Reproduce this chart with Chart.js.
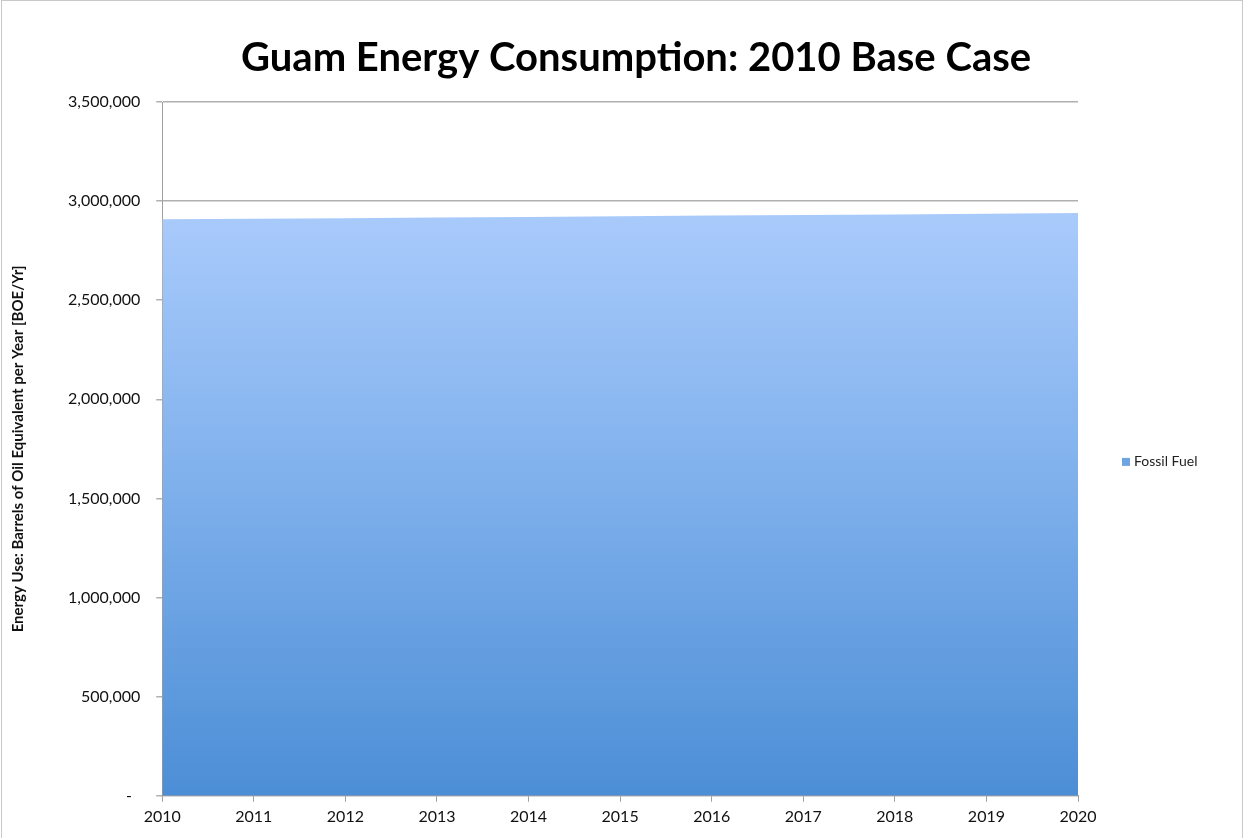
<!DOCTYPE html>
<html>
<head>
<meta charset="utf-8">
<script src="https://cdn.jsdelivr.net/npm/chart.js@4.4.0/dist/chart.umd.min.js"></script>
<style>
  html, body { margin: 0; padding: 0; background: #fff; }
  #wrap { width: 1240px; height: 837px; border-left: 1px solid #c8c8c8; border-top: 1px solid #c8c8c8; border-right: 1px solid #c8c8c8; margin-left: 1px; }
</style>
</head>
<body>
<div id="wrap"><canvas id="grafico"></canvas></div>
<script>
const years = ['2010', '2011', '2012', '2013', '2014', '2015', '2016', '2017', '2018', '2019', '2020'];
const fossilFuel = [2908000, 2911000, 2914000, 2917000, 2920000, 2924000, 2927000, 2930000, 2933000, 2936000, 2940000];
const seriesName = 'Fossil Fuel';
const yMax = 3500000;
const yStep = 500000;

const ctx = document.getElementById('grafico').getContext('2d');

function gradiente(context) {
    const area = context.chart.chartArea;
    if (!area) return '#7aaae8';
    const g = context.chart.ctx.createLinearGradient(0, area.top, 0, area.bottom);
    g.addColorStop(0, '#b4d3fe');
    g.addColorStop(0.17, '#a8cafb');
    g.addColorStop(0.55, '#7fb0ec');
    g.addColorStop(1, '#4c8ed6');
    return g;
}

// legenda desenhada à direita do gráfico + título um pouco deslocado como no original
const legendaDireita = {
    id: 'legendaDireita',
    afterLayout(chart) {
        const t = chart.titleBlock;
        const a = chart.chartArea;
        if (!t) return;
        const centro = (a.left + a.right) / 2 + 16;
        const meio = (t.right - t.left) / 2;
        t.left = centro - meio;
        t.right = centro + meio;
    },
    afterDraw(chart) {
        const a = chart.chartArea;
        const c = chart.ctx;
        const x = a.right + 44;
        const y = (a.top + a.bottom) / 2 + 13;
        c.save();
        c.fillStyle = '#6fa4e4';
        c.fillRect(x, y - 4, 8, 8);
        c.fillStyle = '#222';
        c.font = '14px Lato';
        c.textBaseline = 'middle';
        c.fillText(seriesName, x + 12, y);
        c.restore();
    }
};

const grafico = new Chart(ctx, {
    type: 'line',
    data: {
        labels: years,
        datasets: [{
            label: seriesName,
            data: fossilFuel,
            fill: 'origin',
            backgroundColor: gradiente,
            borderWidth: 0,
            pointRadius: 0,
            tension: 0
        }]
    },
    plugins: [legendaDireita],
    options: {
        responsive: true,
        maintainAspectRatio: false,
        animation: false,
        layout: { padding: { left: 3, right: 164, top: 0, bottom: 7 } },
        plugins: {
            title: {
                display: true,
                text: 'Guam Energy Consumption: 2010 Base Case',
                color: '#000',
                font: { family: 'Lato', size: 40, weight: 'bold' },
                padding: { top: 33, bottom: 20 }
            },
            legend: { display: false },
            tooltip: { enabled: false }
        },
        scales: {
            x: {
                offset: false,
                grid: {
                    drawOnChartArea: false,
                    drawTicks: true,
                    tickLength: 6,
                    color: '#a0a0a0'
                },
                border: { color: '#a0a0a0', width: 1 },
                ticks: {
                    color: '#111',
                    font: { family: 'Lato', size: 16 },
                    maxRotation: 0,
                    padding: 5
                }
            },
            y: {
                min: 0,
                max: yMax,
                title: {
                    display: true,
                    text: 'Energy Use: Barrels of Oil Equivalent per Year [BOE/Yr]',
                    color: '#111',
                    font: { family: 'Lato', size: 15, weight: 'bold' },
                    padding: { bottom: 25 }
                },
                grid: {
                    color: '#b0b0b0',
                    lineWidth: 1.5,
                    drawTicks: true,
                    tickLength: 6
                },
                border: { color: '#a0a0a0', width: 1 },
                ticks: {
                    stepSize: yStep,
                    color: '#111',
                    font: { family: 'Lato', size: 16 },
                    padding: 16,
                    callback: (v) => v === 0 ? '-  ' : v.toLocaleString('en-US')
                }
            }
        }
    }
});
</script>
</body>
</html>
